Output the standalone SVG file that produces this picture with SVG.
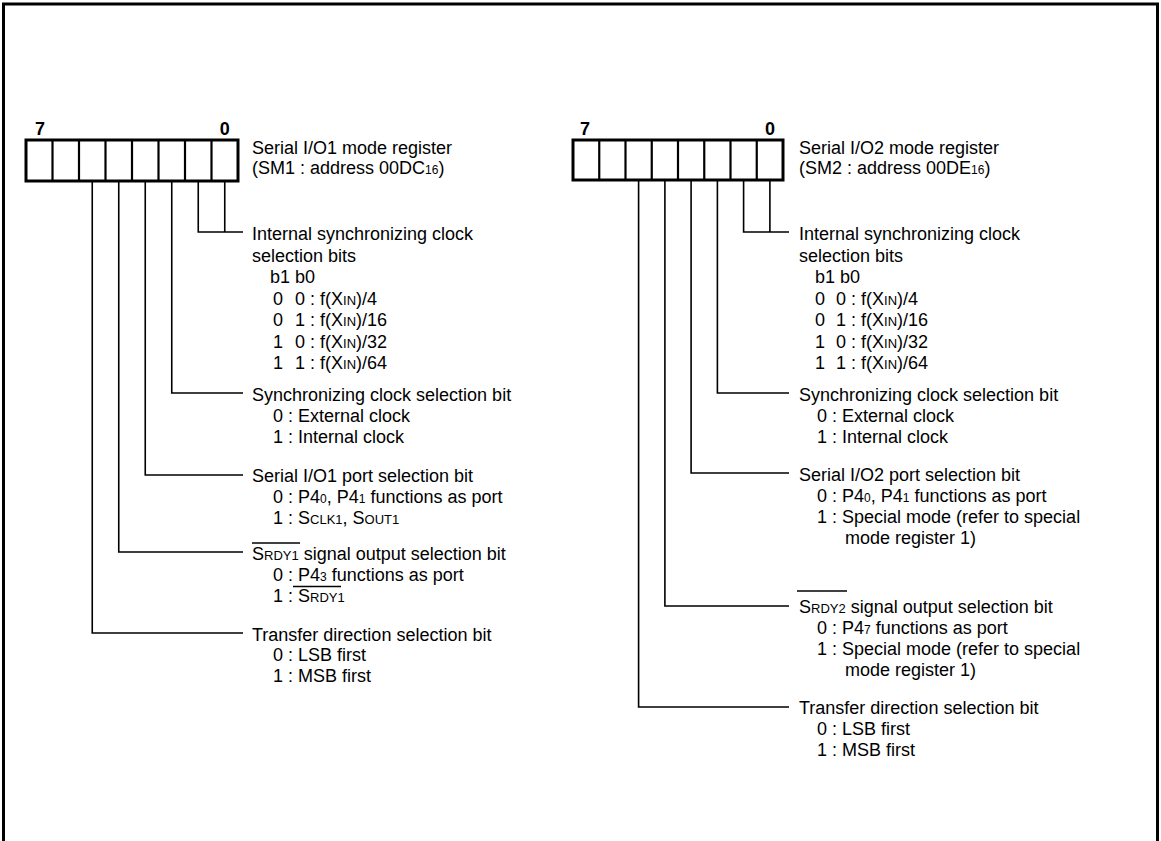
<svg xmlns="http://www.w3.org/2000/svg" width="1161" height="841" viewBox="0 0 1161 841">
<style>
text{font-family:"Liberation Sans",Arial,sans-serif;font-size:18px;fill:#000}
.sm{font-size:13px}
.sub{font-size:12px}
.bitn{font-weight:bold;font-size:18px}
.reg{fill:#fff;stroke:#000;stroke-width:3}
.div{stroke:#000;stroke-width:2.2}
.lead{fill:none;stroke:#000;stroke-width:1.6}
.ov{stroke:#000;stroke-width:1.4}
.frame{fill:none;stroke:#000;stroke-width:3}
</style>
<rect width="1161" height="841" fill="#fff"/>
<path class="frame" d="M3.5,841 V4 H1157.5 V841"/>

<g id="reg1">
<rect class="reg" x="26" y="140" width="212" height="41"/>
<path class="div" d="M52.5,140V181M79,140V181M105.5,140V181M132,140V181M158.5,140V181M185,140V181M211.5,140V181"/>
<text class="bitn" x="40" y="135" text-anchor="middle">7</text>
<text class="bitn" x="224.7" y="135" text-anchor="middle">0</text>
<text x="252" y="154">Serial I/O1 mode register</text>
<text x="252" y="174">(SM1 : address 00DC<tspan class="sub">16</tspan>)</text>
</g>

<g id="reg2">
<rect class="reg" x="573" y="140" width="210" height="40"/>
<path class="div" d="M599.25,140V180M625.5,140V180M651.75,140V180M678,140V180M704.25,140V180M730.5,140V180M756.75,140V180"/>
<text class="bitn" x="585" y="135" text-anchor="middle">7</text>
<text class="bitn" x="770" y="135" text-anchor="middle">0</text>
<text x="799" y="154">Serial I/O2 mode register</text>
<text x="799" y="174">(SM2 : address 00DE<tspan class="sub">16</tspan>)</text>
</g>

<g id="connectors">
<path class="lead" d="M224.75,181V232M198.25,181V232H243"/>
<path class="lead" d="M171.75,181V393H243"/>
<path class="lead" d="M145.25,181V475H243"/>
<path class="lead" d="M118.75,181V552H243"/>
<path class="lead" d="M92.25,181V633H243"/>
<path class="lead" d="M769.9,180V232M743.6,180V232H789"/>
<path class="lead" d="M717.4,180V393H789"/>
<path class="lead" d="M691.1,180V473H789"/>
<path class="lead" d="M664.9,180V606H789"/>
<path class="lead" d="M638.6,180V707H789"/>
</g>

<g id="l-clk">
<text x="252" y="240">Internal synchronizing clock</text>
<text x="252" y="261.5">selection bits</text>
<text x="270" y="283">b1  b0</text>
<text y="304.5"><tspan x="273">0</tspan><tspan x="295">0 : f(X<tspan class="sm">IN</tspan>)/4</tspan></text>
<text y="326"><tspan x="273">0</tspan><tspan x="295">1 : f(X<tspan class="sm">IN</tspan>)/16</tspan></text>
<text y="347.5"><tspan x="273">1</tspan><tspan x="295">0 : f(X<tspan class="sm">IN</tspan>)/32</tspan></text>
<text y="369"><tspan x="273">1</tspan><tspan x="295">1 : f(X<tspan class="sm">IN</tspan>)/64</tspan></text>
</g>
<g id="l-sync">
<text x="252" y="401">Synchronizing clock selection bit</text>
<text x="273" y="422">0 : External clock</text>
<text x="273" y="443">1 : Internal clock</text>
</g>
<g id="l-port">
<text x="252" y="482">Serial I/O1 port selection bit</text>
<text x="273" y="502.5">0 : P4<tspan class="sub">0</tspan>, P4<tspan class="sub">1</tspan> functions as port</text>
<text x="273" y="523.5">1 : S<tspan class="sm">CLK1</tspan>, S<tspan class="sm">OUT1</tspan></text>
</g>
<g id="l-srdy">
<line class="ov" x1="252" y1="543" x2="300" y2="543"/>
<text x="252" y="560">S<tspan class="sm">RDY1</tspan> signal output selection bit</text>
<text x="273" y="581">0 : P4<tspan class="sub">3</tspan> functions as port</text>
<line class="ov" x1="293" y1="586.5" x2="341" y2="586.5"/>
<text x="273" y="602">1 : S<tspan class="sm">RDY1</tspan></text>
</g>
<g id="l-dir">
<text x="252" y="640.5">Transfer direction selection bit</text>
<text x="273" y="661">0 : LSB first</text>
<text x="273" y="682">1 : MSB first</text>
</g>

<g id="r-clk">
<text x="799" y="240">Internal synchronizing clock</text>
<text x="799" y="261.5">selection bits</text>
<text x="815" y="283">b1  b0</text>
<text y="304.5"><tspan x="815">0</tspan><tspan x="836">0 : f(X<tspan class="sm">IN</tspan>)/4</tspan></text>
<text y="326"><tspan x="815">0</tspan><tspan x="836">1 : f(X<tspan class="sm">IN</tspan>)/16</tspan></text>
<text y="347.5"><tspan x="815">1</tspan><tspan x="836">0 : f(X<tspan class="sm">IN</tspan>)/32</tspan></text>
<text y="369"><tspan x="815">1</tspan><tspan x="836">1 : f(X<tspan class="sm">IN</tspan>)/64</tspan></text>
</g>
<g id="r-sync">
<text x="799" y="401">Synchronizing clock selection bit</text>
<text x="817" y="422">0 : External clock</text>
<text x="817" y="443">1 : Internal clock</text>
</g>
<g id="r-port">
<text x="799" y="481">Serial I/O2 port selection bit</text>
<text x="817" y="502">0 : P4<tspan class="sub">0</tspan>, P4<tspan class="sub">1</tspan> functions as port</text>
<text x="817" y="523">1 : Special mode (refer to special</text>
<text x="845" y="544">mode register 1)</text>
</g>
<g id="r-srdy">
<line class="ov" x1="797" y1="591" x2="847" y2="591"/>
<text x="799" y="613">S<tspan class="sm">RDY2</tspan> signal output selection bit</text>
<text x="817" y="634">0 : P4<tspan class="sub">7</tspan> functions as port</text>
<text x="817" y="655">1 : Special mode (refer to special</text>
<text x="845" y="676">mode register 1)</text>
</g>
<g id="r-dir">
<text x="799" y="714">Transfer direction selection bit</text>
<text x="817" y="735">0 : LSB first</text>
<text x="817" y="756">1 : MSB first</text>
</g>
</svg>
